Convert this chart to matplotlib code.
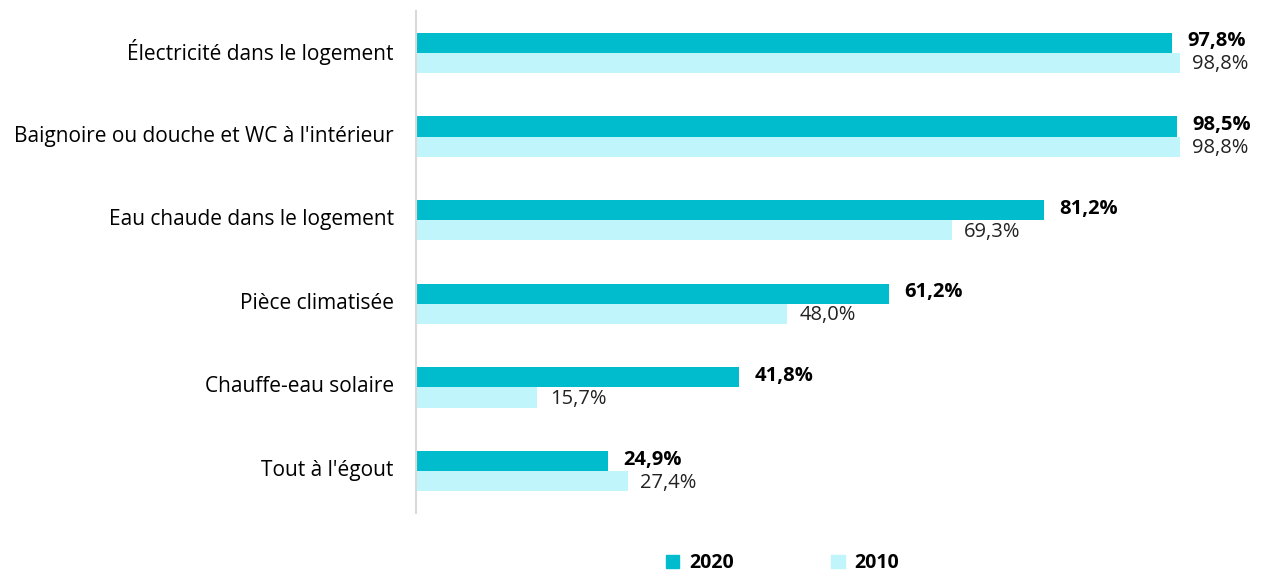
import matplotlib.pyplot as plt
import matplotlib.transforms as mtransforms
from matplotlib.patches import Patch
import numpy as np

categories = ["Électricité dans le logement",
              "Baignoire ou douche et WC à l'intérieur",
              "Eau chaude dans le logement",
              "Pièce climatisée",
              "Chauffe-eau solaire",
              "Tout à l'égout"]
v2020 = [97.8, 98.5, 81.2, 61.2, 41.8, 24.9]
v2010 = [98.8, 98.8, 69.3, 48.0, 15.7, 27.4]

c2020 = '#00BCCC'
c2010 = '#C1F5FC'

plt.rcParams['font.family'] = ['Open Sans', 'DejaVu Sans']

fig = plt.figure(figsize=(12.62, 5.71), dpi=100)
ax = fig.add_axes([0.3296, 0.1016, 0.64, 0.8791])

y = np.arange(len(categories))
h = 0.24
ax.barh(y - h / 2, v2020, height=h, color=c2020)
ax.barh(y + h / 2, v2010, height=h, color=c2010)

for yi, a, b in zip(y, v2020, v2010):
    ax.annotate(f"{a:.1f}%".replace('.', ','), (a, yi - h / 2), xytext=(11, 1),
                textcoords='offset points', va='center', ha='left',
                fontsize=14.5, fontweight='bold', color='black')
    ax.annotate(f"{b:.1f}%".replace('.', ','), (b, yi + h / 2), xytext=(9, -1),
                textcoords='offset points', va='center', ha='left',
                fontsize=14.5, color='#222222')

ax.set_ylim(len(categories) - 0.5, -0.5)
ax.set_xlim(0, 104.5)
ax.set_yticks(y)
ax.set_yticklabels(categories, fontsize=15)
ax.tick_params(axis='y', length=0, pad=16)
shift = mtransforms.ScaledTranslation(0, 0.03, fig.dpi_scale_trans)
for lab in ax.get_yticklabels():
    lab.set_transform(lab.get_transform() + shift)
ax.set_xticks([])
for s in ['top', 'right', 'bottom']:
    ax.spines[s].set_visible(False)
ax.spines['left'].set_color('#D9D9D9')
ax.spines['left'].set_linewidth(1.5)

handles = [Patch(color=c2020, label='2020'), Patch(color=c2010, label='2010')]
leg = fig.legend(handles=handles, loc='lower center', bbox_to_anchor=(0.62, -0.035),
                 ncol=2, frameon=False, handlelength=0.7, handleheight=0.7,
                 handletextpad=0.5, columnspacing=5.0,
                 prop={'size': 14, 'weight': 'bold'})

fig.savefig('out.png', dpi=100)
